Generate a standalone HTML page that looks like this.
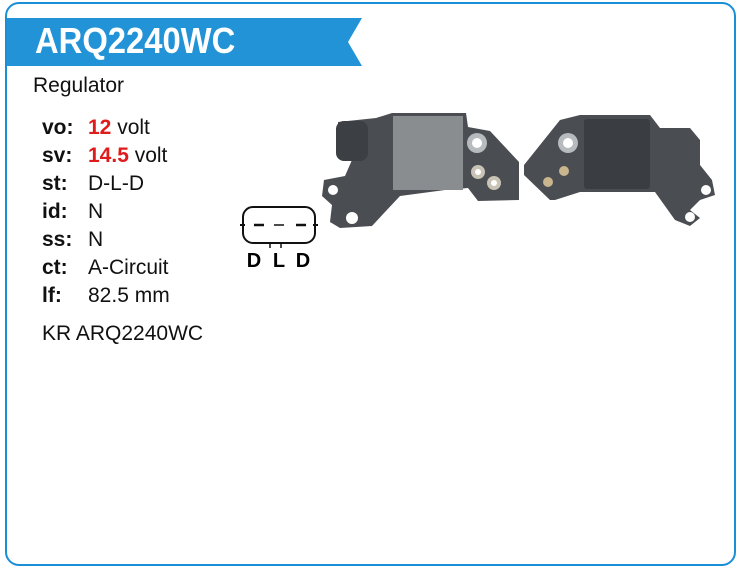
<!DOCTYPE html>
<html><head><meta charset="utf-8"><style>
body{margin:0;width:740px;height:576px;background:#fff;font-family:"Liberation Sans",Arial,sans-serif;position:relative;overflow:hidden}
.box{position:absolute;left:5px;top:2px;width:727px;height:560px;border:2px solid #1a8fd6;border-radius:14px}
.t{position:absolute;white-space:nowrap}
.l{position:absolute;left:42px;font-weight:bold;font-size:21px;color:#111}
.v{position:absolute;left:88px;font-size:21px;color:#111}
.r{color:#e01b1b;font-weight:bold}
</style></head><body>
<div class="box"></div>
<svg style="position:absolute;left:0;top:0" width="740" height="576">
<polygon points="7,18 362,18 348,42 362,66 7,66" fill="#2293d6"/>
<g fill="#4a4d51">
<polygon points="392,113 466,113 468,127 490,131 519,162 519,200 478,201 468,188 445,190 400,196 385,212 372,226 340,228 330,222 332,205 322,196 324,180 345,176 352,160 338,150 338,122 376,118"/>
<rect x="336" y="121" width="32" height="40" rx="8" fill="#3c3f43"/>
<rect x="393" y="116" width="70" height="74" fill="#8a8d90"/>
<circle cx="477" cy="143" r="10" fill="#b8bbbd"/><circle cx="477" cy="143" r="5" fill="#fff"/>
<circle cx="478" cy="172" r="7" fill="#c9c3b5"/><circle cx="478" cy="172" r="3" fill="#fff"/>
<circle cx="494" cy="183" r="7" fill="#c9c3b5"/><circle cx="494" cy="183" r="3" fill="#fff"/>
<circle cx="333" cy="190" r="5" fill="#fff"/><circle cx="352" cy="218" r="6" fill="#fff"/>
</g>
<g fill="#4a4d51">
<polygon points="560,120 580,115 650,115 660,128 690,128 700,140 700,165 712,180 715,195 700,200 690,210 700,218 690,226 675,220 655,192 620,192 580,192 555,200 550,200 524,175 524,165"/>
<rect x="584" y="119" width="66" height="70" rx="3" fill="#3a3d41"/>
<circle cx="568" cy="143" r="10" fill="#b8bbbd"/><circle cx="568" cy="143" r="5" fill="#fff"/>
<circle cx="564" cy="171" r="5" fill="#c9b58e"/><circle cx="548" cy="182" r="5" fill="#c9b58e"/>
<circle cx="706" cy="190" r="5" fill="#fff"/><circle cx="690" cy="217" r="5" fill="#fff"/>
</g>
<rect x="243" y="207" width="72" height="36" rx="10" fill="#fff" stroke="#111" stroke-width="2"/>
<line x1="240" y1="225" x2="245" y2="225" stroke="#111" stroke-width="2"/>
<line x1="313" y1="225" x2="318" y2="225" stroke="#111" stroke-width="2"/>
<line x1="254" y1="225" x2="264" y2="225" stroke="#111" stroke-width="2.5"/>
<line x1="274" y1="225" x2="284" y2="225" stroke="#111" stroke-width="1.5"/>
<line x1="296" y1="225" x2="306" y2="225" stroke="#111" stroke-width="2.5"/>
<line x1="270" y1="243" x2="270" y2="248" stroke="#111" stroke-width="1.5"/>
<line x1="281" y1="243" x2="281" y2="248" stroke="#111" stroke-width="1.5"/>
<text x="254" y="267" font-family="Liberation Sans" font-weight="bold" font-size="20" text-anchor="middle">D</text>
<text x="279" y="267" font-family="Liberation Sans" font-weight="bold" font-size="20" text-anchor="middle">L</text>
<text x="303" y="267" font-family="Liberation Sans" font-weight="bold" font-size="20" text-anchor="middle">D</text>
</svg>
<div class="t" style="left:35px;top:20px;font-size:36px;font-weight:bold;color:#fff;transform:scaleX(0.91);transform-origin:0 0">ARQ2240WC</div>
<div class="t" style="left:33px;top:74px;font-size:21px;color:#111">Regulator</div>
<div class="l" style="top:116px">vo:</div><div class="v" style="top:116px"><span class="r">12</span> volt</div>
<div class="l" style="top:144px">sv:</div><div class="v" style="top:144px"><span class="r">14.5</span> volt</div>
<div class="l" style="top:172px">st:</div><div class="v" style="top:172px">D-L-D</div>
<div class="l" style="top:200px">id:</div><div class="v" style="top:200px">N</div>
<div class="l" style="top:228px">ss:</div><div class="v" style="top:228px">N</div>
<div class="l" style="top:256px">ct:</div><div class="v" style="top:256px">A-Circuit</div>
<div class="l" style="top:284px">lf:</div><div class="v" style="top:284px">82.5 mm</div>
<div class="t" style="left:42px;top:322px;font-size:21px;color:#111">KR ARQ2240WC</div>
</body></html>
